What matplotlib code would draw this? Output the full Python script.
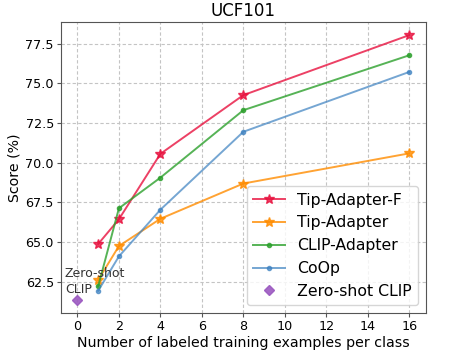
import matplotlib
matplotlib.use("Agg")
import matplotlib.pyplot as plt

shots = [1, 2, 4, 8, 16]
tip_adapter_f = [64.87, 66.43, 70.55, 74.25, 78.03]
tip_adapter = [62.60, 64.74, 66.46, 68.68, 70.58]
clip_adapter = [62.20, 67.12, 69.05, 73.30, 76.76]
coop = [61.92, 64.09, 67.03, 71.94, 75.71]
zs_shot = [0]
zs_clip = [61.35]

fig = plt.figure(figsize=(4.54, 3.53), dpi=100)
ax = fig.add_axes([0.134, 0.113, 0.804, 0.825])

ax.plot(shots, tip_adapter_f, color="#e8113e", marker="*", markersize=7, linewidth=1.4, alpha=0.8, label="Tip-Adapter-F")
ax.plot(shots, tip_adapter, color="#ff8c00", marker="*", markersize=7, linewidth=1.4, alpha=0.8, label="Tip-Adapter")
ax.plot(shots, clip_adapter, color="#2ca02c", marker=".", markersize=6, linewidth=1.4, alpha=0.8, label="CLIP-Adapter")
ax.plot(shots, coop, color="#3b80c0", marker=".", markersize=6, linewidth=1.4, alpha=0.7, label="CoOp")
ax.plot(zs_shot, zs_clip, color="#9b59c0", marker="D", markersize=5, linestyle="none", alpha=0.9, label="Zero-shot CLIP")

ax.text(-0.6, 61.6, "Zero-shot\nCLIP", fontsize=9, ha="left", va="bottom", color="#333333", linespacing=1.25)

ax.set_title("UCF101", fontsize=12, pad=4)
ax.set_xlabel("Number of labeled training examples per class", fontsize=10.2, labelpad=2)
ax.set_ylabel("Score (%)", fontsize=10.2, labelpad=3)
ax.tick_params(labelsize=9.2, length=3, pad=2, color="#555555")
for s in ax.spines.values():
    s.set_color("#555555")
ax.grid(True, linestyle=(0, (3, 2)), color="#c4c4c4", linewidth=0.8)
ax.set_xticks([0, 2, 4, 6, 8, 10, 12, 14, 16])
ax.legend(loc="lower right", fontsize=11.3)

fig.savefig("out.png", dpi=100)
